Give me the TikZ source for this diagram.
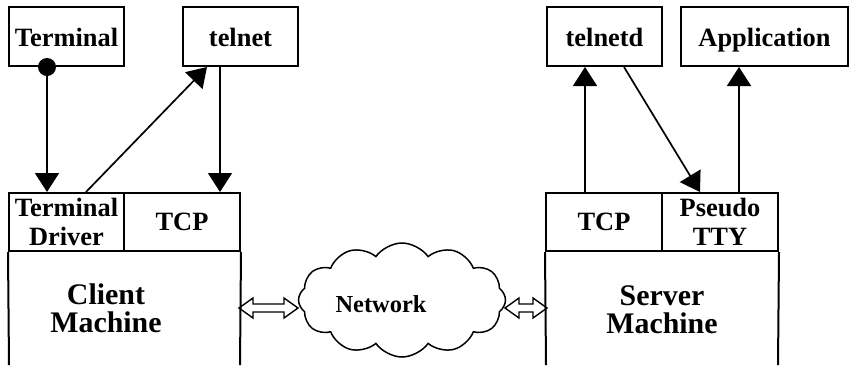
\documentclass[tikz,border=0pt]{standalone}
\usepackage{fontspec}
\setmainfont{Liberation Serif}
\usetikzlibrary{arrows.meta,shapes.symbols,calc}

% hollow two-headed arrow between two points on one level
\newcommand{\fatarrow}[2]{%
  \draw[line width=1.4bp, line join=miter] let \p1=(#1), \p2=(#2) in
    (\x1,\y1) -- (\x1+14bp,\y1+10bp) -- (\x1+14bp,\y1+4bp) -- (\x2-14bp,\y1+4bp)
    -- (\x2-14bp,\y1+10bp) -- (\x2,\y1) -- (\x2-14bp,\y1-10bp) -- (\x2-14bp,\y1-4bp)
    -- (\x1+14bp,\y1-4bp) -- (\x1+14bp,\y1-10bp) -- cycle;}

\begin{document}
\begin{tikzpicture}[x=1bp, y=-1bp, line join=miter, >={Triangle[length=19bp,width=24bp]},
  font=\bfseries\fontsize{26.5}{28.5}\selectfont,
  box/.style={draw, line width=2bp, rectangle, inner sep=0pt, minimum height=59bp, align=center},
  prog/.style={box, text height=20bp, text depth=0pt},
  layer/.style={box, minimum width=116bp, minimum height=58bp},
  link/.style={->, line width=1.7bp},
  wall/.style={line width=2bp},
  big/.style={font=\bfseries\fontsize{30}{28}\selectfont, align=center}]
\useasboundingbox (0,0) rectangle (849,365);

% client machine
\node[prog, minimum width=115bp] (terminal) at (66.5,36.5) {Terminal};
\node[prog, minimum width=115bp] (telnet) at (240.5,36.5) {telnet};
\node[layer, minimum width=115bp] (termdrv) at (66.5,222) {Terminal\\Driver};
\node[layer] (ctcp) at (182,222) {TCP};
\draw[wall] (termdrv.south west) -- (9,365);
\draw[wall] (ctcp.south east) -- (240,365);
\node[big] (client) at (106,308) {Client\\Machine};

\coordinate (dot) at ([xshift=-19.5bp]terminal.south);
\coordinate (tn1) at ([xshift=-20.5bp]telnet.south);
\fill (dot) circle (9bp);
\draw[link] (dot) -- (dot |- termdrv.north);
\draw[link] ([xshift=19.5bp]termdrv.north) -- ([xshift=-33.5bp]telnet.south);
\draw[link] (tn1) -- (tn1 |- ctcp.north);

% network
\node[cloud, draw, line width=1.5bp, cloud puffs=12, cloud puff arc=110, aspect=1.8,
  minimum width=207bp, minimum height=114bp, inner sep=0pt] (net) at (402,300) {};
\node[font=\bfseries\fontsize{24.5}{26}\selectfont] (nettext) at (381,304) {Network};
\coordinate (cl) at (239,308);
\coordinate (nl) at (298,308);
\coordinate (nr) at (505,308);
\coordinate (sl) at (547,308);
\fatarrow{cl}{nl}
\fatarrow{nr}{sl}

% server machine
\node[prog, minimum width=115bp] (telnetd) at (604.5,36.5) {telnetd};
\node[prog, minimum width=167bp] (app) at (764.5,36.5) {Application};
\node[layer] (stcp) at (604,222) {TCP};
\node[layer] (pty) at (720,222) {Pseudo\\TTY};
\draw[wall] (stcp.south west) -- (546,365);
\draw[wall] (pty.south east) -- (778,365);
\node[big] (server) at (662,310) {Server\\Machine};

\coordinate (st1) at ([xshift=-19bp]stcp.north);
\coordinate (pt1) at ([xshift=19bp]pty.north);
\draw[link] (st1) -- (st1 |- telnetd.south);
\draw[link] ([xshift=19.5bp]telnetd.south) -- ([xshift=-20bp]pty.north);
\draw[link] (pt1) -- (pt1 |- app.south);
\end{tikzpicture}
\end{document}
